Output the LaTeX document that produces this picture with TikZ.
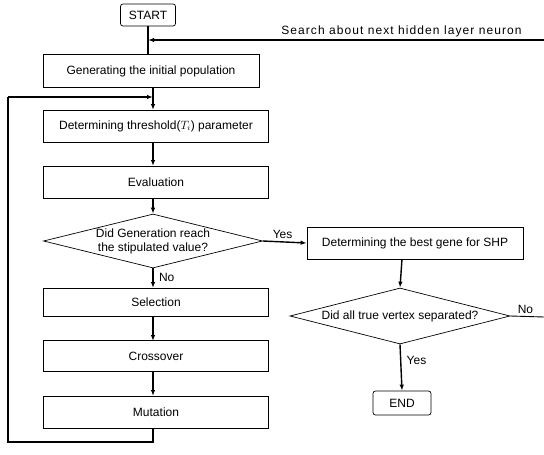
\documentclass[tikz,border=0pt]{standalone}
\usepackage{fontspec}
\setmainfont{Liberation Sans}
\usepackage{tikz}
\usetikzlibrary{
    arrows.meta,
    positioning,
    shapes.geometric,
    calc
}

\begin{document}
\begin{tikzpicture}[
    x=1pt, y=-1pt,
    >={Latex[length=6pt,width=4.5pt]},
    box/.style={draw, line width=0.7pt, inner sep=0pt, font=\fontsize{12}{14}\selectfont},
    term/.style={box, rounded corners=2.5pt},
    decide/.style={draw, diamond, aspect=4, inner sep=-6pt, line width=0.7pt,
        align=center, font=\fontsize{12}{14}\selectfont},
    flow/.style={->, line width=1.4pt},
    wire/.style={line width=1.4pt},
    lbl/.style={font=\fontsize{12}{14}\selectfont}
]

\useasboundingbox (0,0) rectangle (544,455);

\node[term, minimum width=55, minimum height=22] (start) at (148,15) {START};

\node[box, minimum width=216, minimum height=33] (gen) at (151,71)
    {Generating the initial population};

\node[box, minimum width=225, minimum height=32] (thr) at (156,126)
    {Determining threshold($T_i$) parameter};

\node[box, minimum width=225, minimum height=32] (eval) at (156,182)
    {Evaluation};

\node[decide, minimum width=219, minimum height=54] (gencheck) at (153,241)
    {Did Generation reach\\the stipulated value?};

\node[box, minimum width=225, minimum height=28] (sel) at (156,302)
    {Selection};

\node[box, minimum width=225, minimum height=31] (cross) at (156,356)
    {Crossover};

\node[box, minimum width=225, minimum height=32] (mut) at (156,412)
    {Mutation};

\node[box, minimum width=216, minimum height=32] (best) at (415,243)
    {Determining the best gene for SHP};

\node[decide, minimum width=220, minimum height=56] (sepcheck) at (400,316)
    {Did all true vertex separated?};

\node[term, minimum width=58, minimum height=24] (end) at (402,403) {END};

\coordinate (search) at (544,40);
\coordinate (loopbot) at (8,442);
\coordinate (looptop) at (8,97);
\coordinate (noout) at (544,317);

\draw[wire] (start.south) -- (148,55);
\draw[flow] (search) -- (148,40)
    node[lbl, pos=0.36, above=-1.5pt] {\addfontfeature{LetterSpace=9}Search about next hidden layer neuron};

\draw[flow] (153,88) -- (153,110);
\draw[flow] (looptop) -- (153,97);
\draw[flow] (153,142) -- (153,166);
\draw[flow] (153,198) -- (gencheck.north);
\draw[flow] (gencheck.south) -- (153,288)
    node[lbl, pos=0.45, right=2pt] {No};
\draw[flow] (153,316) -- (153,341);
\draw[flow] (153,372) -- (153,396);
\draw[wire] (153,428) -- (153,442) -- (loopbot) -- (looptop);

\draw[flow] (gencheck.east) -- (best.west)
    node[lbl, pos=0.45, above=-1pt] {Yes};

\draw[flow] (402,259) -- (sepcheck.north);
\draw[line width=0.9pt] (sepcheck.east) -- (noout)
    node[lbl, pos=0.45, above=-1pt] {No};
\draw[flow] (sepcheck.south) -- (end.north)
    node[lbl, pos=0.35, right=2pt] {Yes};

\end{tikzpicture}
\end{document}
